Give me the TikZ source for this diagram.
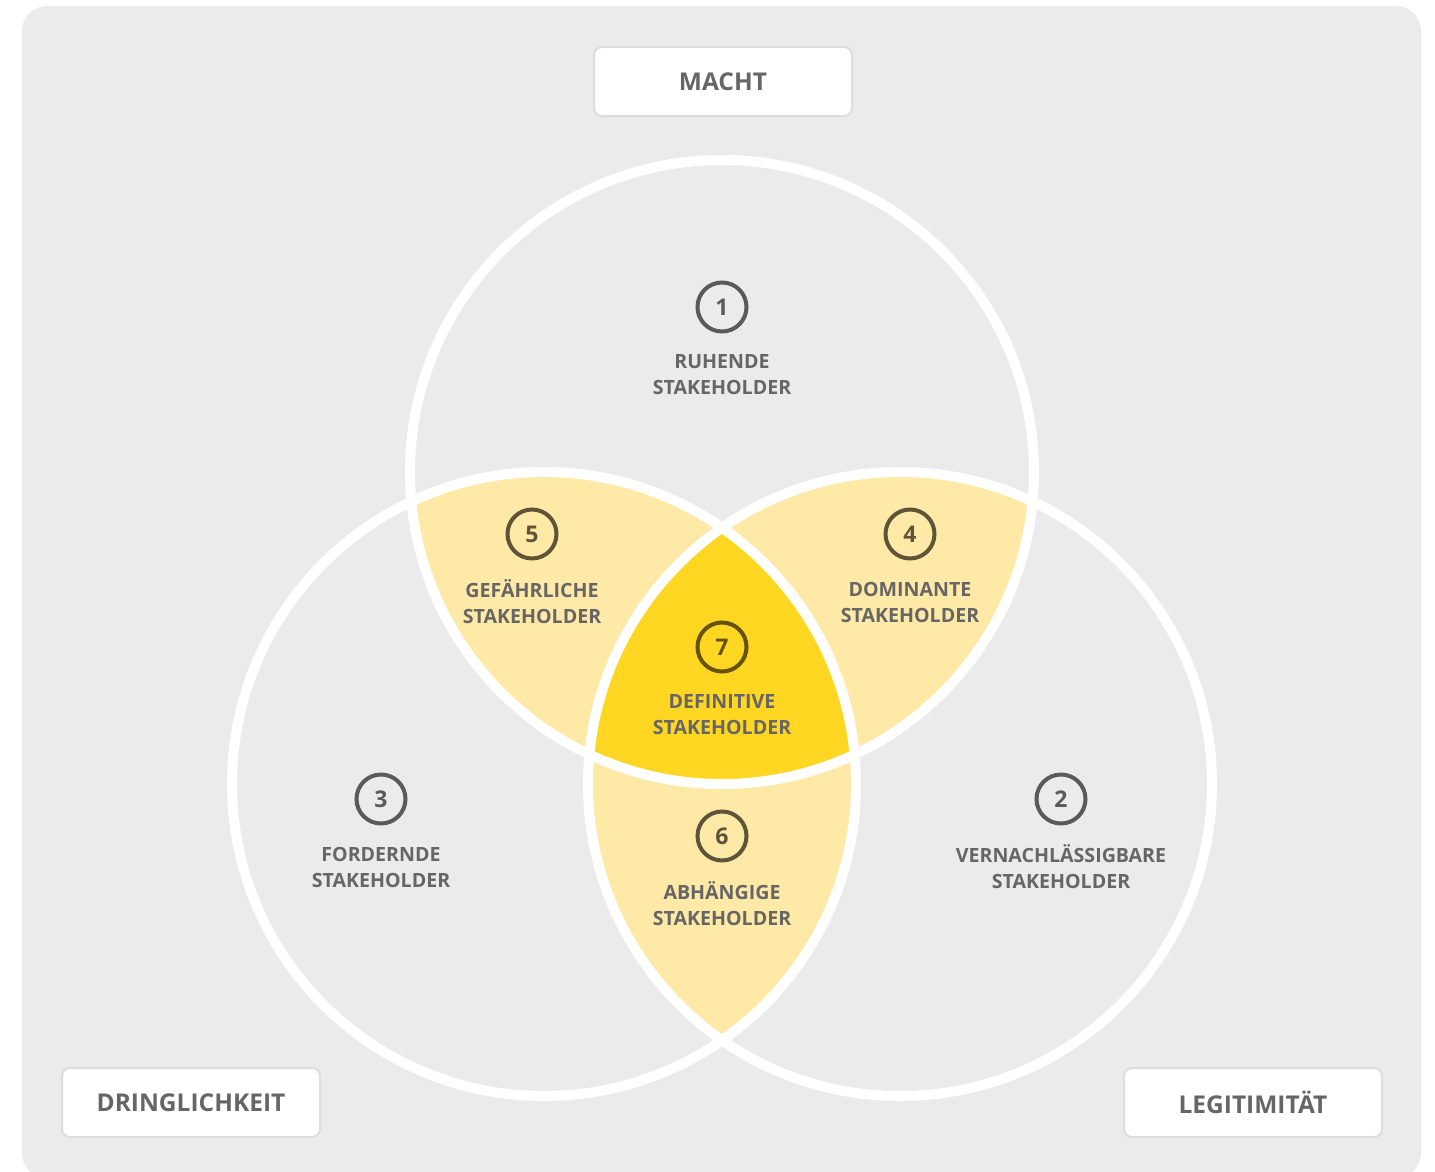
\documentclass[tikz,border=0pt]{standalone}
\usepackage{fontspec}
\setmainfont{Open Sans}
\definecolor{bg}{HTML}{EBEBEB}
\definecolor{lightyel}{HTML}{FFE9A7}
\definecolor{yel}{HTML}{FFD622}
\definecolor{txtgray}{HTML}{666666}
\definecolor{numgray}{HTML}{5A5A5A}
\definecolor{numbrown}{HTML}{5E5538}
\definecolor{numolive}{HTML}{665300}
\definecolor{boxborder}{HTML}{DCDEDC}
\begin{document}
\begin{tikzpicture}[x=1pt,y=-1pt,
  lbl/.style={font=\fontsize{19.6}{26}\selectfont\bfseries, text=txtgray, align=center, inner sep=0pt},
  num/.style={circle, draw=#1, line width=4pt, minimum size=49pt, inner sep=0pt,
    font=\fontsize{23}{23}\selectfont\bfseries, text=#1},
  catbox/.style={rounded corners=8pt, draw=boxborder, line width=2pt, fill=white,
    minimum width=258pt, minimum height=69pt, inner sep=0pt,
    font=\fontsize{24.5}{24.5}\selectfont\bfseries, text=txtgray},
  ring/.style={draw=white, line width=10pt}]
\useasboundingbox (0,0) rectangle (1435,1172);
\fill[bg, rounded corners=25pt] (22,6) rectangle (1421,1178);
\coordinate (T) at (722,472);
\coordinate (L) at (544,784);
\coordinate (R) at (900,784);
% pairwise intersections
\begin{scope}
  \clip (T) circle (312);
  \fill[lightyel] (L) circle (312);
  \fill[lightyel] (R) circle (312);
\end{scope}
\begin{scope}
  \clip (L) circle (312);
  \fill[lightyel] (R) circle (312);
\end{scope}
\begin{scope}
  \clip (T) circle (312);
  \clip (L) circle (312);
  \fill[yel] (R) circle (312);
\end{scope}
\draw[ring] (T) circle (312);
\draw[ring] (L) circle (312);
\draw[ring] (R) circle (312);
% category boxes
\node[catbox] (macht) at (723,81.5) {MACHT};
\node[catbox] (dring) at (191,1102.5) {DRINGLICHKEIT};
\node[catbox] (legit) at (1253,1102.5) {LEGITIMITÄT};
% numbered regions
\node[num=numgray] (n1) at (722,307) {1};
\node[lbl] (l1) at (722,375) {RUHENDE\\STAKEHOLDER};
\node[num=numbrown] (n5) at (532,534) {5};
\node[lbl] (l5) at (532,602) {GEFÄHRLICHE\\STAKEHOLDER};
\node[num=numbrown] (n4) at (910,534) {4};
\node[lbl] (l4) at (910,602) {DOMINANTE\\STAKEHOLDER};
\node[num=numolive] (n7) at (722,647) {7};
\node[lbl] (l7) at (722,715) {DEFINITIVE\\STAKEHOLDER};
\node[num=numgray] (n3) at (381,799) {3};
\node[lbl] (l3) at (381,867) {FORDERNDE\\STAKEHOLDER};
\node[num=numbrown] (n6) at (722,836) {6};
\node[lbl] (l6) at (722,904) {ABHÄNGIGE\\STAKEHOLDER};
\node[num=numgray] (n2) at (1061,799) {2};
\node[lbl] (l2) at (1061,867) {VERNACHLÄSSIGBARE\\STAKEHOLDER};
\end{tikzpicture}
\end{document}
